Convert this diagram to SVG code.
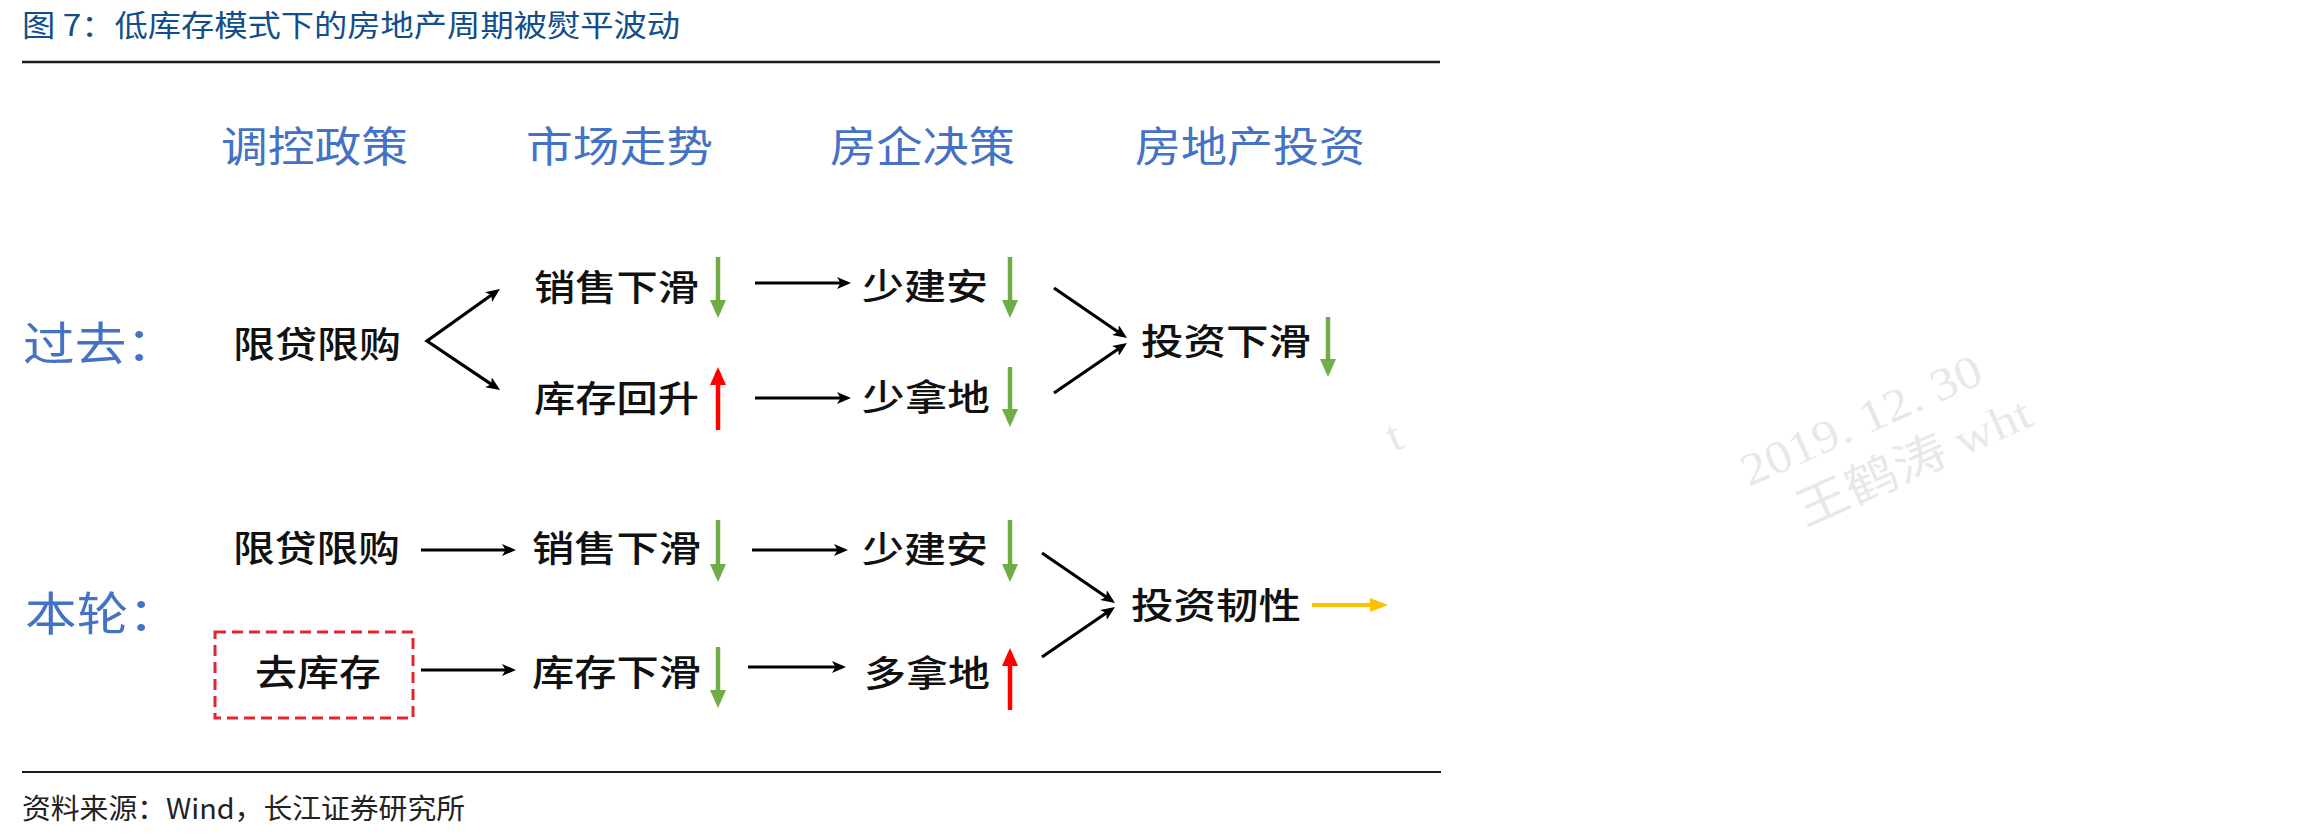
<svg xmlns="http://www.w3.org/2000/svg" width="2303" height="835" viewBox="0 0 2303 835">
<style>
.t{font-family:"Noto Sans CJK SC","Noto Sans",sans-serif}
.title{font-size:30px;fill:#124E89}
.hdr{font-size:42px;fill:#4472C4}
.big{font-size:46px;fill:#4472C4}
.lbl{font-size:36px;fill:#111;font-weight:500}
.foot{font-size:28px;fill:#222}
.wm{font-family:"Liberation Serif","Noto Sans CJK SC",serif;font-size:46px;fill:#e8e8e8}
.blk{stroke:#000;stroke-width:3.2;fill:none;stroke-linejoin:miter}
.grn{stroke:#70AD47;stroke-width:4.5;fill:none}
.red{stroke:#FF0000;stroke-width:4.5;fill:none}
.yel{stroke:#FFC000;stroke-width:4;fill:none}
.rule{stroke:#1a1a1a}
</style>
<defs>
<marker id="ah" viewBox="0 0 14 12" refX="10" refY="6" markerWidth="14" markerHeight="12" markerUnits="userSpaceOnUse" orient="auto-start-reverse"><path d="M0,0 L14,6 L0,12 L3.5,6 Z" fill="#000"/></marker>
<marker id="ag" viewBox="0 0 18 16" refX="13" refY="8" markerWidth="18" markerHeight="16" markerUnits="userSpaceOnUse" orient="auto"><path d="M0,0 L18,8 L0,16 Z" fill="#70AD47"/></marker>
<marker id="ar" viewBox="0 0 18 16" refX="13" refY="8" markerWidth="18" markerHeight="16" markerUnits="userSpaceOnUse" orient="auto"><path d="M0,0 L18,8 L0,16 Z" fill="#FF0000"/></marker>
<marker id="ay" viewBox="0 0 18 14" refX="13" refY="7" markerWidth="18" markerHeight="14" markerUnits="userSpaceOnUse" orient="auto"><path d="M0,0 L18,7 L0,14 Z" fill="#FFC000"/></marker>
</defs>
<rect width="2303" height="835" fill="#fff"/>

<g id="watermark">
<text class="wm" transform="translate(1749,487) rotate(-24)" textLength="259" lengthAdjust="spacingAndGlyphs">2019. 12. 30</text>
<text class="wm" transform="translate(1805,527) rotate(-24)" textLength="252" lengthAdjust="spacingAndGlyphs">王鹤涛 wht</text>
<text class="wm" transform="translate(1394,452) rotate(-24)">t</text>
</g>

<g id="title">
<text class="t title" x="22" y="36" textLength="658" lengthAdjust="spacingAndGlyphs">图 7：低库存模式下的房地产周期被熨平波动</text>
<line class="rule" x1="22" y1="62" x2="1440" y2="62" stroke-width="2.6"/>
</g>

<g id="headers">
<text class="t hdr" x="221" y="162" textLength="187" lengthAdjust="spacingAndGlyphs">调控政策</text>
<text class="t hdr" x="526" y="162" textLength="187" lengthAdjust="spacingAndGlyphs">市场走势</text>
<text class="t hdr" x="830" y="162" textLength="185" lengthAdjust="spacingAndGlyphs">房企决策</text>
<text class="t hdr" x="1135" y="162" textLength="230" lengthAdjust="spacingAndGlyphs">房地产投资</text>
</g>

<g id="label-past"><text class="t big" x="23" y="360" textLength="155" lengthAdjust="spacingAndGlyphs">过去：</text></g>
<g id="label-now"><text class="t big" x="25" y="630" textLength="155" lengthAdjust="spacingAndGlyphs">本轮：</text></g>

<g id="past-policy"><text class="t lbl" x="233" y="358" textLength="168" lengthAdjust="spacingAndGlyphs">限贷限购</text></g>
<g id="past-sales"><text class="t lbl" x="534" y="301" textLength="165" lengthAdjust="spacingAndGlyphs">销售下滑</text></g>
<g id="past-stock"><text class="t lbl" x="534" y="412" textLength="165" lengthAdjust="spacingAndGlyphs">库存回升</text></g>
<g id="past-build"><text class="t lbl" x="862" y="300" textLength="126" lengthAdjust="spacingAndGlyphs">少建安</text></g>
<g id="past-land"><text class="t lbl" x="862" y="411" textLength="128" lengthAdjust="spacingAndGlyphs">少拿地</text></g>
<g id="past-invest"><text class="t lbl" x="1141" y="355" textLength="170" lengthAdjust="spacingAndGlyphs">投资下滑</text></g>

<g id="now-policy"><text class="t lbl" x="233" y="562" textLength="167" lengthAdjust="spacingAndGlyphs">限贷限购</text></g>
<g id="now-destock">
<rect x="215" y="632" width="198" height="86" fill="none" stroke="#E3262E" stroke-width="3" stroke-dasharray="11 6"/>
<text class="t lbl" x="255" y="686" textLength="126" lengthAdjust="spacingAndGlyphs">去库存</text>
</g>
<g id="now-sales"><text class="t lbl" x="532" y="562" textLength="169" lengthAdjust="spacingAndGlyphs">销售下滑</text></g>
<g id="now-stock"><text class="t lbl" x="532" y="686" textLength="169" lengthAdjust="spacingAndGlyphs">库存下滑</text></g>
<g id="now-build"><text class="t lbl" x="862" y="563" textLength="126" lengthAdjust="spacingAndGlyphs">少建安</text></g>
<g id="now-land"><text class="t lbl" x="864" y="687" textLength="126" lengthAdjust="spacingAndGlyphs">多拿地</text></g>
<g id="now-invest"><text class="t lbl" x="1131" y="619" textLength="170" lengthAdjust="spacingAndGlyphs">投资韧性</text></g>

<g id="connectors">
<path class="blk" d="M496.7,291.3 L427,341 L496.7,387.8" marker-start="url(#ah)" marker-end="url(#ah)"/>
<line class="blk" x1="755" y1="283" x2="847" y2="283" marker-end="url(#ah)"/>
<line class="blk" x1="755" y1="398" x2="847" y2="398" marker-end="url(#ah)"/>
<line class="blk" x1="1054" y1="288" x2="1123.7" y2="335.7" marker-end="url(#ah)"/>
<line class="blk" x1="1054" y1="393" x2="1123.7" y2="345.3" marker-end="url(#ah)"/>
<line class="blk" x1="421" y1="550" x2="512" y2="550" marker-end="url(#ah)"/>
<line class="blk" x1="752" y1="550" x2="844" y2="550" marker-end="url(#ah)"/>
<line class="blk" x1="421" y1="670" x2="512" y2="670" marker-end="url(#ah)"/>
<line class="blk" x1="748" y1="667" x2="842" y2="667" marker-end="url(#ah)"/>
<line class="blk" x1="1042" y1="553" x2="1111.7" y2="600.7" marker-end="url(#ah)"/>
<line class="blk" x1="1042" y1="657" x2="1111.7" y2="609.3" marker-end="url(#ah)"/>
</g>

<g id="trend-arrows">
<line class="grn" x1="718" y1="257" x2="718" y2="313" marker-end="url(#ag)"/>
<line class="red" x1="718" y1="430" x2="718" y2="372" marker-end="url(#ar)"/>
<line class="grn" x1="1010" y1="257" x2="1010" y2="313" marker-end="url(#ag)"/>
<line class="grn" x1="1010" y1="367" x2="1010" y2="422" marker-end="url(#ag)"/>
<line class="grn" x1="1328" y1="317" x2="1328" y2="372" marker-end="url(#ag)"/>
<line class="grn" x1="718" y1="520" x2="718" y2="577" marker-end="url(#ag)"/>
<line class="grn" x1="1010" y1="520" x2="1010" y2="577" marker-end="url(#ag)"/>
<line class="grn" x1="718" y1="647" x2="718" y2="703" marker-end="url(#ag)"/>
<line class="red" x1="1010" y1="710" x2="1010" y2="653" marker-end="url(#ar)"/>
<line class="yel" x1="1312" y1="605" x2="1383" y2="605" marker-end="url(#ay)"/>
</g>

<g id="footer">
<line class="rule" x1="22" y1="772" x2="1441" y2="772" stroke-width="2.2"/>
<text class="t foot" x="22" y="819" textLength="443" lengthAdjust="spacingAndGlyphs">资料来源：Wind，长江证券研究所</text>
</g>
</svg>
